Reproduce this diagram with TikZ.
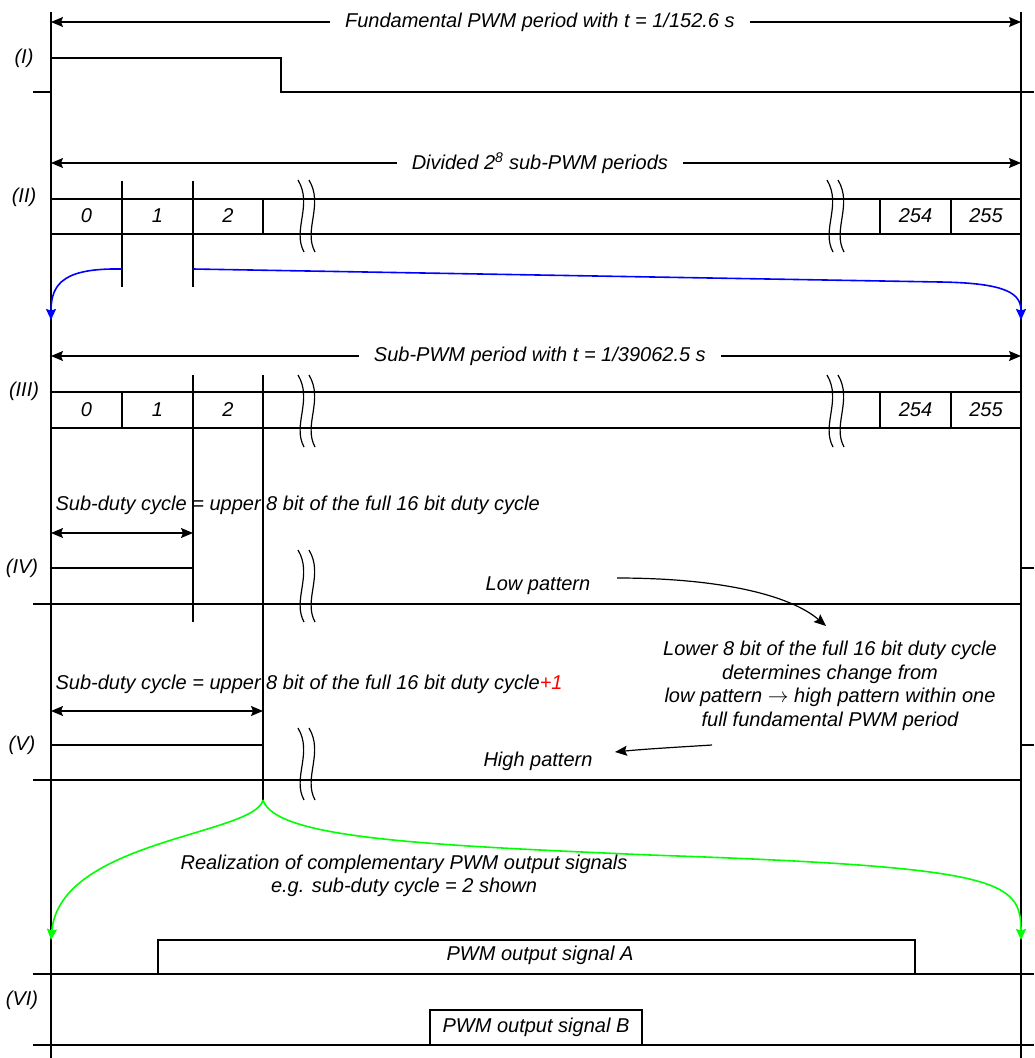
\documentclass[tikz,border=0pt]{standalone}
\usepackage{fontspec}
\setmainfont{Liberation Sans}
\usetikzlibrary{arrows.meta}

\newcommand{\wavebreak}[2]{%
  \draw[line width=1.2pt] (#1,#2) .. controls ({#1+15},{#2+25}) and ({#1-6},{#2+50}) .. ({#1+6},{#2+72});
  \draw[line width=1.2pt] ({#1+11},#2) .. controls ({#1+26},{#2+25}) and ({#1+5},{#2+50}) .. ({#1+17},{#2+72});}

\begin{document}
\begin{tikzpicture}[x=1pt,y=-1pt,line width=1.2pt,>={Stealth[length=12pt,width=10pt,inset=2pt]},
  every node/.style={font=\fontsize{20}{23.5}\selectfont\itshape,inner sep=1pt},
  span/.style={<->},
  spantext/.style={fill=white,inner xsep=15pt},
  sig/.style={line width=2pt},
  cellno/.style={inner sep=0pt},
  link/.style={->,line width=1.6pt,>={Stealth[length=11pt,width=10pt,inset=1.5pt]}}]
\useasboundingbox (0,0) rectangle (1034,1058);
\coordinate (lt) at (51,12); \coordinate (lb) at (51,1058);
\coordinate (rt) at (1021,12); \coordinate (rb) at (1021,1058);
\draw (lt) -- (lb); \draw (rt) -- (rb);
% (I)
\node (r1) at (24,58) {(I)};
\coordinate (f1) at (51,22); \coordinate (f2) at (1021,22);
\draw[span] (f1) -- (f2) node[spantext,pos=0.504] (ft) {Fundamental PWM period with t = 1/152.6 s};
\draw[sig] (33,92) -- (51,92) -- (51,58) -- (281,58) -- (281,92) -- (1034,92);
% (II)
\node (r2) at (24,197) {(II)};
\coordinate (d1) at (51,163); \coordinate (d2) at (1021,163);
\draw[span] (d1) -- (d2) node[spantext,pos=0.504] (dt) {Divided 2\textsuperscript{8} sub-PWM periods};
\draw (51,199) rectangle (1021,234);
\foreach \x in {122,193,263,880,951} \draw (\x,199) -- (\x,234);
\node[cellno] (a0) at (86.5,216) {0}; \node[cellno] (a1) at (157.5,216) {1};
\node[cellno] (a2) at (228,216) {2}; \node[cellno] (a254) at (915.5,216) {254};
\node[cellno] (a255) at (986,216) {255};
\wavebreak{298}{180} \wavebreak{827}{180}
\draw (122,181) -- (122,287); \draw (193,181) -- (193,287);
\coordinate (b1) at (122,269); \coordinate (b2) at (193,269);
\coordinate (bl) at (51,320); \coordinate (br) at (1021,320);
\draw[link,blue] (b1) .. controls (66,268) and (51,282) .. (bl);
\draw[link,blue] (b2) -- (940,282) .. controls (1008,283) and (1021,294) .. (br);
% (III)
\node (r3) at (24,391) {(III)};
\coordinate (s1) at (51,356); \coordinate (s2) at (1021,356);
\draw[span] (s1) -- (s2) node[spantext,pos=0.504] (st) {Sub-PWM period with t = 1/39062.5 s};
\draw (51,392) rectangle (1021,428);
\foreach \x in {122,193,263,880,951} \draw (\x,392) -- (\x,428);
\node[cellno] (c0) at (86.5,410) {0}; \node[cellno] (c1) at (157.5,410) {1};
\node[cellno] (c2) at (228,410) {2}; \node[cellno] (c254) at (915.5,410) {254};
\node[cellno] (c255) at (986,410) {255};
\wavebreak{298}{375} \wavebreak{827}{375}
\draw (193,375) -- (193,622); \draw (263,375) -- (263,800);
% (IV)
\node[anchor=west] (u1) at (54,505) {Sub-duty cycle = upper 8 bit of the full 16 bit duty cycle};
\coordinate (w1) at (51,533); \coordinate (w2) at (193,533);
\draw[span] (w1) -- (w2);
\node (r4) at (22,568) {(IV)};
\draw[sig] (33,604) -- (1021,604) -- (1021,568) -- (1034,568);
\draw[sig] (51,604) -- (51,568) -- (193,568) -- (193,604);
\wavebreak{298}{550}
\node (lo) at (538,586) {Low pattern};
\node[align=center] (note) at (830,686) {Lower 8 bit of the full 16 bit duty cycle\\determines change from\\low pattern $\rightarrow$ high pattern within one\\full fundamental PWM period};
\coordinate (n1) at (617,578); \coordinate (n2) at (826,626);
\draw[->] (n1) .. controls (720,578) and (790,595) .. (n2);
% (V)
\node[anchor=west] (u2) at (54,684) {Sub-duty cycle = upper 8 bit of the full 16 bit duty cycle\textcolor{red}{+1}};
\coordinate (v1) at (51,711); \coordinate (v2) at (263,711);
\draw[span] (v1) -- (v2);
\node (r5) at (22,745) {(V)};
\draw[sig] (33,780) -- (1021,780) -- (1021,745) -- (1034,745);
\draw[sig] (51,780) -- (51,745) -- (263,745) -- (263,780);
\wavebreak{298}{728}
\node (hi) at (538,761) {High pattern};
\coordinate (h1) at (712,745); \coordinate (h2) at (615,752);
\draw[->] (h1) .. controls (680,747) and (645,749) .. (h2);
% (VI)
\coordinate (g0) at (263,800); \coordinate (gl) at (51,940); \coordinate (gr) at (1021,940);
\draw[link,green] (g0) .. controls (255,835) and (60,840) .. (gl);
\draw[link,green] (g0) .. controls (275,838) and (420,845) .. (650,855) .. controls (1000,867) and (1021,880) .. (gr);
\node[align=center] (re) at (404,876) {Realization of complementary PWM output signals\\e.g. sub-duty cycle = 2 shown};
\draw[sig] (33,974) -- (1034,974);
\draw[sig] (158,974) -- (158,940) -- (915,940) -- (915,974);
\node (pa) at (540,955) {PWM output signal A};
\node (r6) at (22,1000) {(VI)};
\draw[sig] (33,1045) -- (1034,1045);
\draw[sig] (430,1045) -- (430,1010) -- (642,1010) -- (642,1045);
\node (pb) at (536,1027) {PWM output signal B};
\end{tikzpicture}
\end{document}
